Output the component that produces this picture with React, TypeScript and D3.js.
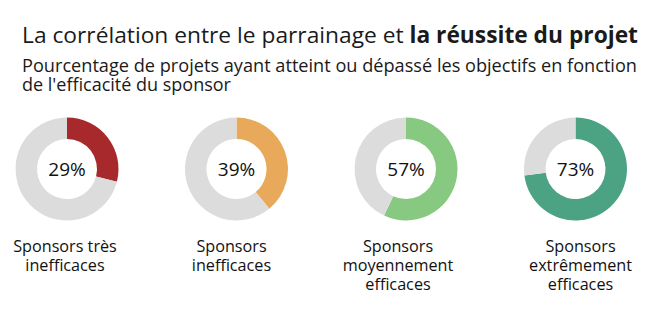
import React from "react";
import * as d3 from "d3";

const categories = ["Sponsors très inefficaces", "Sponsors inefficaces", "Sponsors moyennement efficaces", "Sponsors extrêmement efficaces"];
const labelLines = [
  ["Sponsors très", "inefficaces"],
  ["Sponsors", "inefficaces"],
  ["Sponsors", "moyennement", "efficaces"],
  ["Sponsors", "extrêmement", "efficaces"],
];
const values = [29, 39, 57, 73];
const colors = ["#a8292b", "#e9a95b", "#87c980", "#4ba383"];
const restColor = "#dcdcdc";

const titleRegular = "La corrélation entre le parrainage et ";
const titleBold = "la réussite du projet";
const subtitleLines = [
  "Pourcentage de projets ayant atteint ou dépassé les objectifs en fonction",
  "de l'efficacité du sponsor",
];

const W = 661;
const H = 332;
const FONT = "'Open Sans', sans-serif";

export default function App() {
  const x = d3.scalePoint<string>().domain(categories).range([67, 575.5]);
  const outerR = 51.5;
  const innerR = 30;
  const cy = 169;
  const pie = d3.pie<number>().sort(null).value((d) => d);
  const arc = d3.arc<d3.PieArcDatum<number>>().innerRadius(innerR).outerRadius(outerR);
  const labelShift = [-2, -5, -8, 5];

  return (
    <svg width={W} height={H} style={{ position: "absolute", left: 0, top: 0, background: "#fff" }} fontFamily={FONT}>
      <text x={22} y={43} fontSize={22.6} fill="#1a1a1a" textLength={616} lengthAdjust="spacingAndGlyphs">
        {titleRegular}
        <tspan fontWeight="bold">{titleBold}</tspan>
      </text>
      <text x={22} y={72} fontSize={18} fill="#1a1a1a" textLength={615} lengthAdjust="spacingAndGlyphs">
        {subtitleLines[0]}
      </text>
      <text x={22} y={91} fontSize={18} fill="#1a1a1a">
        {subtitleLines[1]}
      </text>
      {categories.map((c, i) => {
        const cx = x(c)!;
        const arcs = pie([values[i], 100 - values[i]]);
        return (
          <g key={c}>
            <g transform={`translate(${cx},${cy})`}>
              {arcs.map((a, j) => (
                <path key={j} d={arc(a)!} fill={j === 0 ? colors[i] : restColor} />
              ))}
              <text x={0} y={0} dy="0.36em" textAnchor="middle" fontSize={19} fill="#111">
                {values[i]}%
              </text>
            </g>
            {labelLines[i].map((l, k) => (
              <text key={k} x={cx + labelShift[i]} y={252 + k * 19} textAnchor="middle" fontSize={16.2} fill="#111">
                {l}
              </text>
            ))}
          </g>
        );
      })}
    </svg>
  );
}
